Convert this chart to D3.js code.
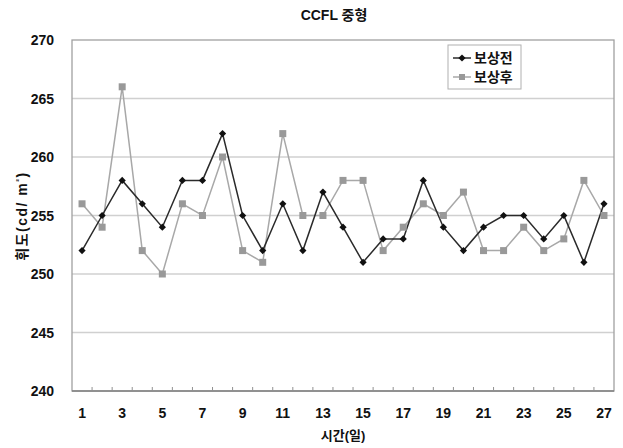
<!DOCTYPE html>
<html>
<head>
<meta charset="utf-8">
<script src="https://cdn.jsdelivr.net/npm/d3@7"></script>
<style>
body { margin: 0; background: #fff; }
svg text { font-family: "Liberation Sans", Arial, "Noto Sans CJK KR", sans-serif; font-weight: bold; fill: #111; }
</style>
</head>
<body>
<div id="chart"></div>
<script>
// data
const days = d3.range(1, 28);
const before = [252, 255, 258, 256, 254, 258, 258, 262, 255, 252, 256, 252, 257, 254, 251, 253, 253, 258, 254, 252, 254, 255, 255, 253, 255, 251, 256];
const after = [256, 254, 266, 252, 250, 256, 255, 260, 252, 251, 262, 255, 255, 258, 258, 252, 254, 256, 255, 257, 252, 252, 254, 252, 253, 258, 255];
const yTicks = [240, 245, 250, 255, 260, 265, 270];
const xLabels = days.filter(d => d % 2 == 1);
const names = ["보상전", "보상후"];

const W = 623, H = 448;
const m = {left: 72, right: 9, top: 40, bottom: 57};

const svg = d3.select("#chart").append("svg").attr("width", W).attr("height", H);

var x = d3.scaleBand().domain(days).range([m.left, W - m.right]);
var y = d3.scaleLinear().domain([240, 270]).range([H - m.bottom, m.top]);
var cx = d => x(d) + x.bandwidth() / 2;
var midX = (m.left + W - m.right) / 2;

// grid
svg.append("g").selectAll("line").data(yTicks.slice(1, -1)).enter().append("line")
    .attr("x1", m.left).attr("x2", W - m.right)
    .attr("y1", d => y(d)).attr("y2", d => y(d))
    .attr("stroke", "#d0d0d0").attr("stroke-width", 1.3);

// plot border
svg.append("rect")
    .attr("x", m.left).attr("y", m.top)
    .attr("width", W - m.right - m.left).attr("height", H - m.bottom - m.top)
    .attr("fill", "none").attr("stroke", "#a0a0a0").attr("stroke-width", 1.3);

// y axis labels
svg.append("g").selectAll("text").data(yTicks).enter().append("text")
    .attr("x", 54).attr("y", d => y(d) + 5)
    .attr("text-anchor", "end").style("font-size", "14px")
    .text(d => d);

// x axis: inner ticks at band edges
svg.append("line")
    .attr("x1", m.left).attr("x2", W - m.right)
    .attr("y1", y(240)).attr("y2", y(240))
    .attr("stroke", "#808080").attr("stroke-width", 1.3);
svg.append("g").selectAll("line").data(days.slice(1)).enter().append("line")
    .attr("x1", d => x(d)).attr("x2", d => x(d))
    .attr("y1", y(240)).attr("y2", y(240) - 4)
    .attr("stroke", "#909090");

svg.append("g").selectAll("text").data(xLabels).enter().append("text")
    .attr("x", cx).attr("y", 418)
    .attr("text-anchor", "middle").style("font-size", "14px")
    .text(d => d);

// titles
svg.append("text").attr("x", 334).attr("y", 20).attr("text-anchor", "middle")
    .style("font-size", "14px").text("CCFL  중형");
svg.append("text").attr("x", midX).attr("y", 440).attr("text-anchor", "middle")
    .style("font-size", "13px").text("시간(일)");
var yt = svg.append("text").attr("transform", "translate(27,216) rotate(-90)").attr("text-anchor", "middle")
    .style("font-size", "14px").style("letter-spacing", "1.5px");
yt.append("tspan").text("휘도(cd/ m");
yt.append("tspan").attr("dy", -5).style("font-size", "8px").text("²");
yt.append("tspan").attr("dy", 5).text(")");

// lines
var line = d3.line().x((d, i) => cx(days[i])).y(d => y(d));

svg.append("path").attr("d", line(after)).attr("fill", "none")
    .attr("stroke", "#a8a8a8").attr("stroke-width", 1.5);
svg.append("path").attr("d", line(before)).attr("fill", "none")
    .attr("stroke", "#2a2a2a").attr("stroke-width", 1.5);

svg.append("g").selectAll("rect").data(after).enter().append("rect")
    .attr("x", (d, i) => cx(days[i]) - 3.5)
    .attr("y", d => y(d) - 3.5)
    .attr("width", 7).attr("height", 7).attr("fill", "#999");

var diamond = d3.symbol().type(d3.symbolSquare).size(26);
svg.append("g").selectAll("path").data(before).enter().append("path")
    .attr("d", diamond)
    .attr("transform", (d, i) => `translate(${cx(days[i])},${y(d)}) rotate(45)`)
    .attr("fill", "#111");

// legend
var lg = svg.append("g").attr("transform", "translate(448,45)");
lg.append("rect").attr("width", 73).attr("height", 44)
    .attr("fill", "#fff").attr("stroke", "#b0b0b0");
names.forEach((n, i) => {
    var ly = 13 + i * 19;
    var col = i == 0 ? "#2a2a2a" : "#a8a8a8";
    lg.append("line").attr("x1", 5).attr("x2", 23).attr("y1", ly).attr("y2", ly)
        .attr("stroke", col).attr("stroke-width", 1.5);
    if (i == 0) {
        lg.append("path").attr("d", diamond).attr("transform", `translate(14,${ly}) rotate(45)`).attr("fill", "#111");
    } else {
        lg.append("rect").attr("x", 11).attr("y", ly - 3).attr("width", 6).attr("height", 6).attr("fill", "#999");
    }
    lg.append("text").attr("x", 26).attr("y", ly + 5).style("font-size", "14px").text(n);
});
</script>
</body>
</html>
